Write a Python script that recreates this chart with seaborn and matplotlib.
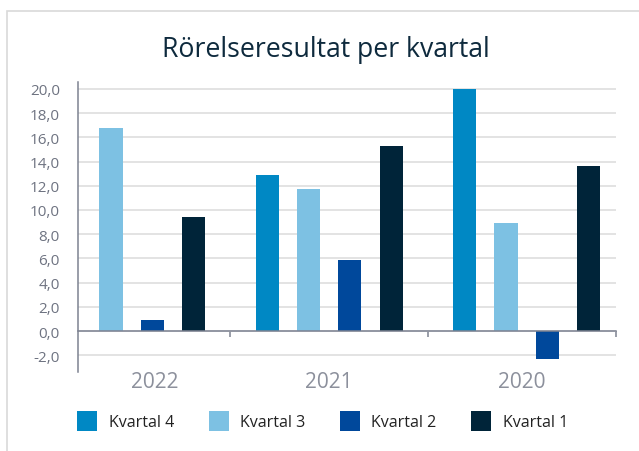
import pandas as pd
import numpy as np
import matplotlib
matplotlib.use("Agg")
import matplotlib.pyplot as plt
from matplotlib.patches import Rectangle
from matplotlib.ticker import FuncFormatter
import seaborn as sns

# Data
years = ["2022", "2021", "2020"]
quarters = ["Kvartal 4", "Kvartal 3", "Kvartal 2", "Kvartal 1"]
kvartal_4 = [np.nan, 12.9, 20.0]
kvartal_3 = [16.8, 11.7, 8.9]
kvartal_2 = [0.9, 5.9, -2.3]
kvartal_1 = [9.4, 15.3, 13.6]
y_ticks = list(range(-2, 21, 2))

colors = {"Kvartal 4": "#0088c4", "Kvartal 3": "#7dc1e3",
          "Kvartal 2": "#00489b", "Kvartal 1": "#002439"}

rows = []
for q, vals in zip(quarters, [kvartal_4, kvartal_3, kvartal_2, kvartal_1]):
    for y, v in zip(years, vals):
        rows.append({"År": y, "Kvartal": q, "Resultat": v})
df = pd.DataFrame(rows)

sns.set_style("white")
plt.rcParams["font.family"] = ["Open Sans", "DejaVu Sans"]

axis_grey = "#7d8291"
fig = plt.figure(figsize=(6.39, 4.52), dpi=100)
ax = fig.add_axes([0.1221, 0.1741, 0.8419, 0.6416])

sns.barplot(data=df, x="År", y="Resultat", hue="Kvartal", order=years,
            hue_order=quarters, palette=colors, saturation=1, errorbar=None,
            width=0.84, gap=0.445, linewidth=0, ax=ax, legend=True)

x0, x1 = -0.272, 2.452
ax.set_xlim(x0, x1)
ax.set_ylim(-3.41, 20.55)

# y axis
ax.set_yticks(y_ticks)
ax.yaxis.set_major_formatter(FuncFormatter(lambda v, p: f"{v:.1f}".replace(".", ",")))
ax.tick_params(axis="y", which="major", length=0, pad=13, labelsize=11,
               labelcolor="#6e7381")
ax.set_yticks([0], minor=True)
ax.tick_params(axis="y", which="minor", length=3.6, width=1.1, color=axis_grey)
ax.grid(axis="y", color="#dedede", linewidth=1.2)
ax.set_axisbelow(True)

# x axis: category boundaries as ticks on the zero line, year labels below
ax.spines["bottom"].set_position(("data", 0))
ax.spines["bottom"].set_color(axis_grey)
ax.spines["bottom"].set_linewidth(1.1)
ax.spines["left"].set_color(axis_grey)
ax.spines["left"].set_linewidth(1.1)
ax.spines["top"].set_visible(False)
ax.spines["right"].set_visible(False)
ax.set_xticks([0.5, 1.5, x1])
ax.set_xticklabels([])
ax.tick_params(axis="x", which="major", direction="out", length=4.3, width=1.1,
               color=axis_grey, bottom=True)
ax.set_xticks([(x0 + 0.5) / 2, 1.0, (1.5 + x1) / 2], minor=True)
ax.set_xticklabels(years, minor=True)
ax.tick_params(axis="x", which="minor", length=0, pad=29, labelsize=15,
               labelcolor="#8c909c")
ax.set_xlabel("")
ax.set_ylabel("")

sns.move_legend(ax, "center", bbox_to_anchor=(0.505, 0.067),
                bbox_transform=fig.transFigure, ncol=4, frameon=False,
                title=None, fontsize=11.5, handlelength=1.25,
                handleheight=1.55, handletextpad=0.73, columnspacing=2.15,
                borderpad=0, labelcolor="#222222")

fig.text(0.5105, 0.8732, "Rörelseresultat per kvartal", ha="center",
         va="baseline", fontsize=19.2, color="#0e2a3d")

# light frame around the chart
fig.add_artist(Rectangle((0.0117, -0.1), 1.2, 1.0728, transform=fig.transFigure,
                         fill=False, edgecolor="#d9d9d9", linewidth=1.2))

fig.savefig("out.png", dpi=100)
